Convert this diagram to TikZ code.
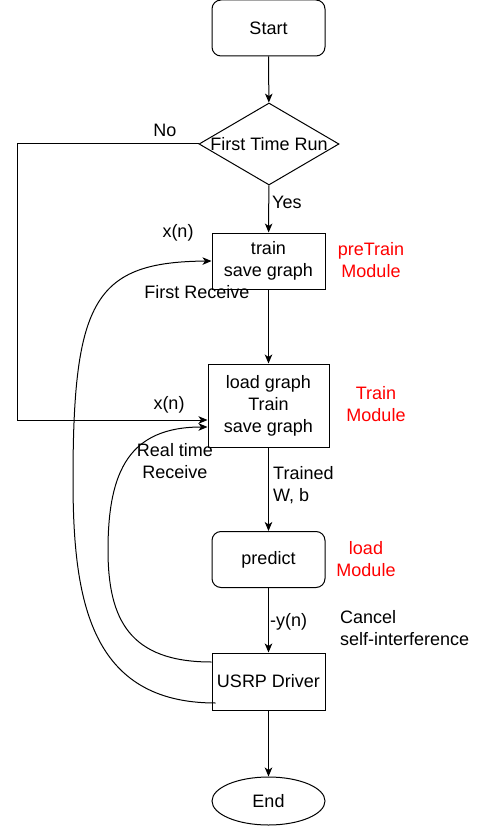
\documentclass[tikz,border=0pt]{standalone}
\usepackage{fontspec}
\setmainfont{Liberation Sans}
\usetikzlibrary{shapes.geometric,arrows.meta}

\begin{document}
\begin{tikzpicture}[x=1pt,y=-1pt,font=\fontsize{18}{22}\selectfont]
  \tikzset{every node/.style={align=center},
    stepbox/.style={draw,line width=1pt,minimum width=113pt,minimum height=56pt,inner sep=2pt},
    roundbox/.style={stepbox,rounded corners=9pt},
    note/.style={inner sep=1pt},
    modnote/.style={note,text=red},
    flow/.style={line width=1pt,-{Stealth[length=9pt,width=7.5pt,inset=2.5pt]}}}
  \useasboundingbox (0,0) rectangle (484,834);
  % main column
  \node[roundbox] (start) at (268.5,28) {Start};
  \node[draw,diamond,line width=1pt,inner sep=0pt,minimum width=140pt,minimum height=82pt] (first) at (269,144) {};
  \node[note] (firstq) at (first) {First Time Run};
  \node[stepbox] (pretrain) at (268.5,261) {train\\save graph};
  \node[stepbox,minimum width=121pt,minimum height=83pt] (train) at (268.5,405.5) {load graph\\Train\\save graph};
  \node[roundbox] (predict) at (268.5,559.5) {predict};
  \node[stepbox,minimum height=57pt] (usrp) at (268.5,681.5) {USRP Driver};
  \node[draw,ellipse,line width=1pt,inner sep=0pt,minimum width=113pt,minimum height=48pt] (end) at (268.5,801) {End};
  % labels
  \node[note] (no) at (165,130) {No};
  \node[note,anchor=west] (yes) at (271,202) {Yes};
  \node[note] (xnone) at (178,233) {x(n)};
  \node[note] (xntwo) at (169,405) {x(n)};
  \node[note] (firstrx) at (197,292) {First Receive};
  \node[note] (realrx) at (175,461) {Real time\\Receive};
  \node[note,anchor=west,align=left] (trained) at (272,485) {Trained\\W, b};
  \node[note,anchor=west] (yn) at (269,622) {-y(n)};
  \node[note,anchor=west,align=left] (cancel) at (339,628) {Cancel\\self-interference};
  \node[modnote] (pretrainmod) at (371,260.5) {preTrain\\Module};
  \node[modnote] (trainmod) at (376,404) {Train\\Module};
  \node[modnote] (loadmod) at (366,559) {load\\Module};
  \coordinate (nocorner) at (17,144);
  % connectors
  \draw[flow] (start) -- (first);
  \draw[flow] (first) -- (pretrain);
  \draw[flow] (pretrain) -- (train);
  \draw[flow] (train) -- (predict);
  \draw[flow] (predict) -- (usrp);
  \draw[flow] (usrp) -- (end);
  \draw[flow] (first.west) -- (nocorner) |- ([yshift=-14.5pt]train.west);
  \draw[flow] ([yshift=19.5pt]usrp.west) .. controls (130,662) and (108,620) .. (108,550)
    .. controls (108,470) and (130,427) .. ([yshift=-21.5pt]train.west);
  \draw[flow] ([xshift=4pt,yshift=-21.5pt]usrp.west) .. controls (90,703) and (73,600) .. (73,480)
    .. controls (73,300) and (95,262) .. (pretrain.west);
\end{tikzpicture}
\end{document}
